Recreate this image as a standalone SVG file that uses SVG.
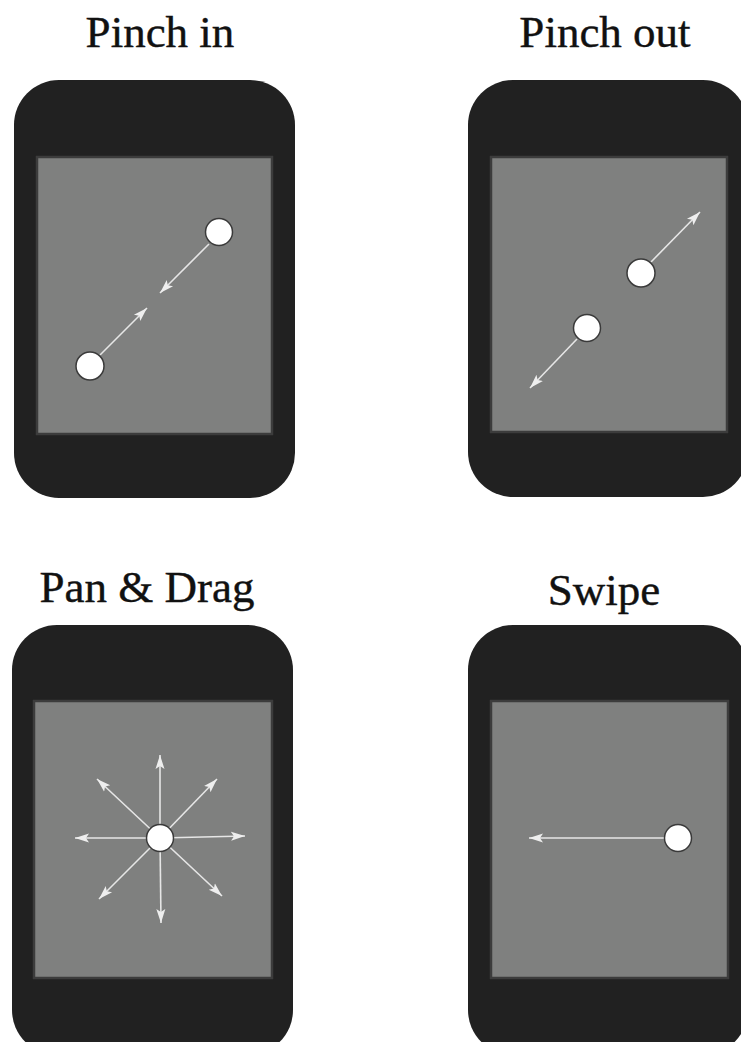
<svg xmlns="http://www.w3.org/2000/svg" width="741" height="1042" viewBox="0 0 741 1042">
<style>
.title{font-family:"Liberation Serif","DejaVu Serif",serif;font-size:45px;fill:#111;text-anchor:middle;stroke:#111;stroke-width:0.4}
.body{fill:#212121}
.screen{fill:#7f807f;stroke:#3c3c3c;stroke-width:2.5}
.touch{fill:#fff;stroke:#3a3a3a;stroke-width:1.5}
.arrow{stroke:#e6e6e6;stroke-width:1.6;fill:none;marker-end:url(#ah)}
</style>
<defs>
<marker id="ah" markerUnits="userSpaceOnUse" markerWidth="16" markerHeight="12" refX="14" refY="6" orient="auto">
<path d="M0,1.5 L14,6 L0,10.5 L3,6 Z" fill="#eeeeee"/>
</marker>
</defs>
<rect width="741" height="1042" fill="#fff"/>

<g id="pinch-in">
<text class="title" x="160" y="47">Pinch in</text>
<rect class="body" x="14" y="80" width="281" height="418" rx="45"/>
<rect class="screen" x="37" y="157" width="235" height="277"/>
</g>
<g id="pinch-out">
<text class="title" x="605" y="47">Pinch out</text>
<rect class="body" x="468" y="80" width="280" height="417" rx="45"/>
<rect class="screen" x="491" y="157" width="236" height="275"/>
</g>
<g id="pan-drag">
<text class="title" x="147" y="602">Pan &amp; Drag</text>
<rect class="body" x="12" y="625" width="281" height="430" rx="45"/>
<rect class="screen" x="34" y="701" width="238" height="277"/>
</g>
<g id="swipe">
<text class="title" x="604" y="605">Swipe</text>
<rect class="body" x="468" y="625" width="280" height="430" rx="45"/>
<rect class="screen" x="491" y="701" width="237" height="277"/>
</g>

<g id="connectors">
<line class="arrow" x1="209" y1="244" x2="160" y2="293"/>
<line class="arrow" x1="100" y1="355" x2="147" y2="308"/>
<line class="arrow" x1="651" y1="262" x2="700" y2="212"/>
<line class="arrow" x1="577" y1="339" x2="530" y2="388"/>
<line class="arrow" x1="160" y1="838" x2="160" y2="755"/>
<line class="arrow" x1="160" y1="838" x2="161" y2="923"/>
<line class="arrow" x1="160" y1="838" x2="75" y2="838"/>
<line class="arrow" x1="160" y1="838" x2="245" y2="836"/>
<line class="arrow" x1="160" y1="838" x2="97" y2="779"/>
<line class="arrow" x1="160" y1="838" x2="217" y2="779"/>
<line class="arrow" x1="160" y1="838" x2="99" y2="899"/>
<line class="arrow" x1="160" y1="838" x2="222" y2="896"/>
<line class="arrow" x1="665" y1="838" x2="529" y2="838"/>
</g>

<g id="touches">
<circle class="touch" cx="219" cy="232" r="13.5"/>
<circle class="touch" cx="90" cy="366" r="14"/>
<circle class="touch" cx="641" cy="273" r="14"/>
<circle class="touch" cx="587" cy="328" r="13.5"/>
<circle class="touch" cx="160" cy="838" r="13.5"/>
<circle class="touch" cx="678" cy="838" r="13.5"/>
</g>
</svg>
